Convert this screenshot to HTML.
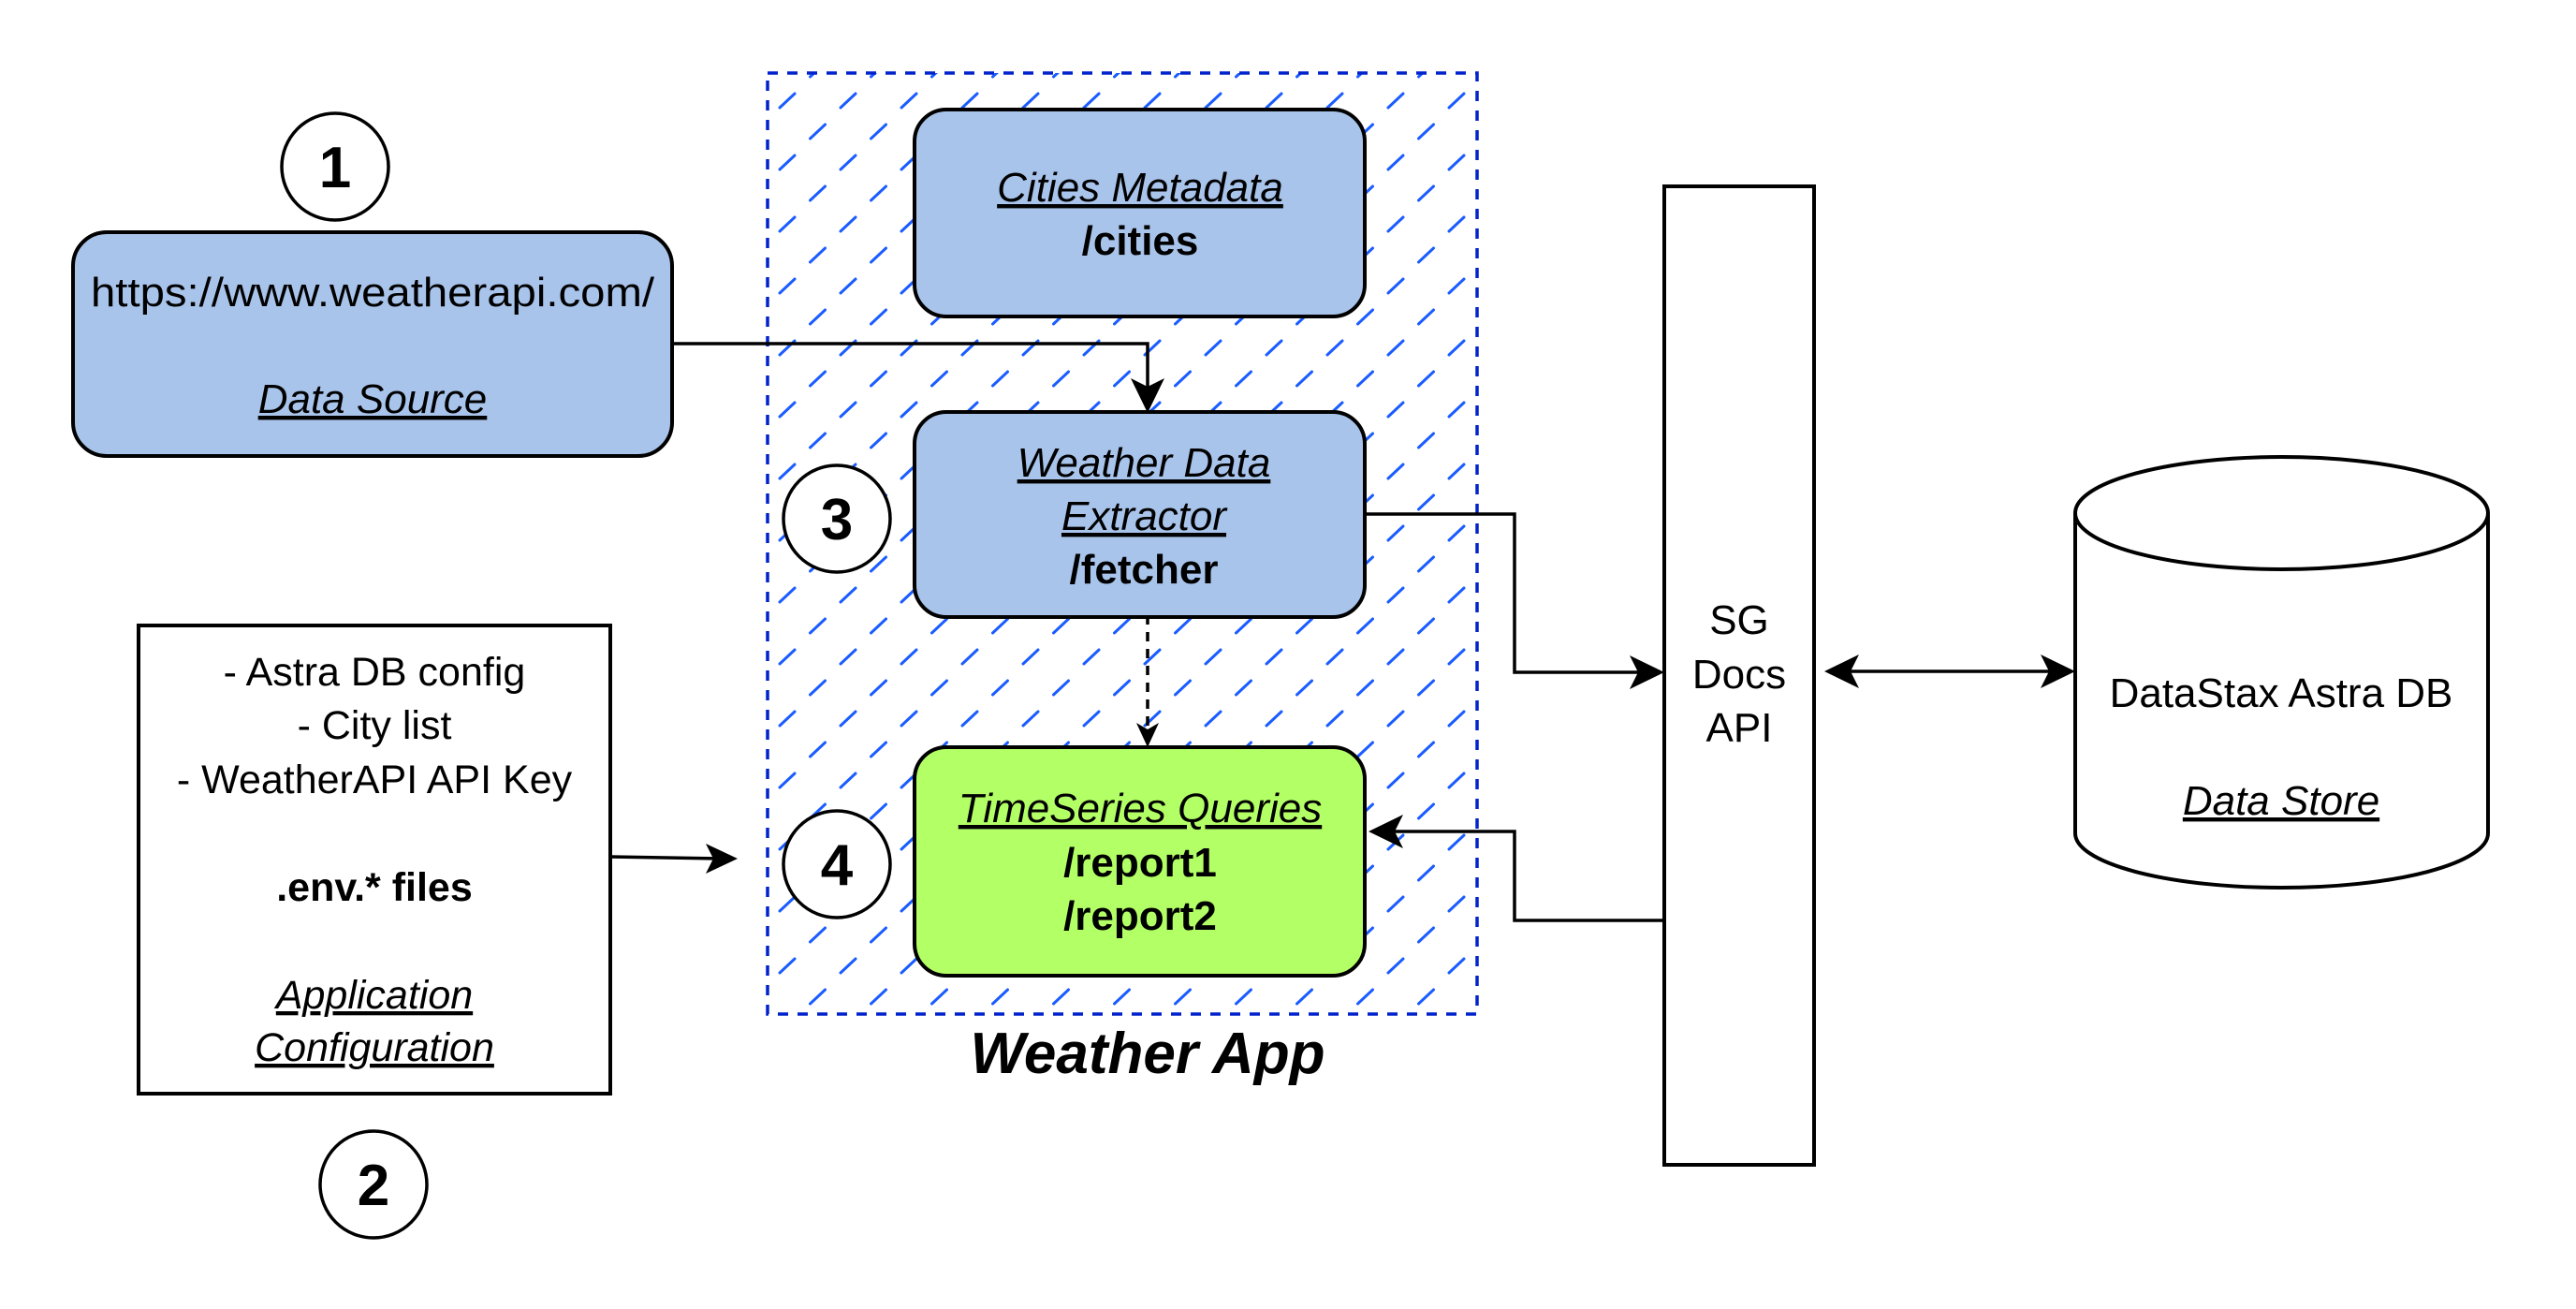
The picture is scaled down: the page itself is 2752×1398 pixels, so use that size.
<!DOCTYPE html>
<html><head><meta charset="utf-8"><style>
html,body{margin:0;padding:0;background:#fff;}
svg{display:block;}
text{font-family:"Liberation Sans",Arial,sans-serif;fill:#000;}
</style></head><body>
<svg width="2752" height="1398" viewBox="0 0 2752 1398" xmlns="http://www.w3.org/2000/svg">
<defs>
<pattern id="hatch" patternUnits="userSpaceOnUse" x="820" y="68" width="65" height="66">
<line x1="13" y1="47" x2="29" y2="32" stroke="#1a5cff" stroke-width="3" stroke-linecap="round"/>
<line x1="45.5" y1="80" x2="61.5" y2="65" stroke="#1a5cff" stroke-width="3" stroke-linecap="round"/>
<line x1="45.5" y1="14" x2="61.5" y2="-1" stroke="#1a5cff" stroke-width="3" stroke-linecap="round"/>
</pattern>
</defs>

<rect x="820" y="78" width="758" height="1005" fill="url(#hatch)" stroke="#0022cc" stroke-width="3.5" stroke-dasharray="11 10"/>
<text x="1226" y="1146" font-size="62" font-weight="bold" font-style="italic" text-anchor="middle">Weather App</text>

<g fill="none" stroke="#000" stroke-width="3.5">
<polyline points="718,367 1226,367 1226,430"/>
<line x1="1226" y1="657" x2="1226" y2="788" stroke-dasharray="10 8"/>
<polyline points="1458,549 1618,549 1618,718 1765,718"/>
<polyline points="1778,983 1618,983 1618,888 1478,888"/>
<line x1="1968" y1="717" x2="2195" y2="717"/>
<line x1="652" y1="915" x2="770" y2="917"/>
</g>
<g fill="#000">
<polygon points="1226,441 1208,404 1226,413 1244,404"/>
<polygon points="1226,798 1214,772 1226,779 1238,772"/>
<polygon points="1778,718 1741,700 1750,718 1741,736"/>
<polygon points="1462,888 1499,870 1490,888 1499,906"/>
<polygon points="1949,717 1986,699 1977,717 1986,735"/>
<polygon points="2217,717 2180,699 2189,717 2180,735"/>
<polygon points="788,917 754,901 762,917 754,933"/>
</g>

<circle cx="358" cy="178" r="57" fill="#fff" stroke="#000" stroke-width="3.5"/>
<text x="358" y="200" font-size="62" font-weight="bold" text-anchor="middle">1</text>

<rect x="78" y="248" width="640" height="239" rx="36" fill="#a9c4eb" stroke="#000" stroke-width="4"/>
<text x="398" y="327" font-size="44" text-anchor="middle" textLength="602" lengthAdjust="spacingAndGlyphs">https://www.weatherapi.com/</text>
<text x="398" y="441" font-size="44" font-style="italic" text-anchor="middle" text-decoration="underline">Data Source</text>

<rect x="977" y="117" width="481" height="221" rx="34" fill="#a9c4eb" stroke="#000" stroke-width="4"/>
<text x="1218" y="215" font-size="44" font-style="italic" text-anchor="middle" text-decoration="underline">Cities Metadata</text>
<text x="1218" y="272" font-size="44" font-weight="bold" text-anchor="middle">/cities</text>

<rect x="977" y="440" width="481" height="219" rx="34" fill="#a9c4eb" stroke="#000" stroke-width="4"/>
<text x="1222" y="509" font-size="44" font-style="italic" text-anchor="middle" text-decoration="underline">Weather Data</text>
<text x="1222" y="566" font-size="44" font-style="italic" text-anchor="middle" text-decoration="underline">Extractor</text>
<text x="1222" y="623" font-size="44" font-weight="bold" text-anchor="middle">/fetcher</text>

<circle cx="894" cy="554" r="57" fill="#fff" stroke="#000" stroke-width="3.5"/>
<text x="894" y="576" font-size="62" font-weight="bold" text-anchor="middle">3</text>

<rect x="977" y="798" width="481" height="244" rx="34" fill="#b3ff66" stroke="#000" stroke-width="4"/>
<text x="1218" y="878" font-size="44" font-style="italic" text-anchor="middle" text-decoration="underline">TimeSeries Queries</text>
<text x="1218" y="936" font-size="44" font-weight="bold" text-anchor="middle">/report1</text>
<text x="1218" y="993" font-size="44" font-weight="bold" text-anchor="middle">/report2</text>

<circle cx="894" cy="923" r="57" fill="#fff" stroke="#000" stroke-width="3.5"/>
<text x="894" y="945" font-size="62" font-weight="bold" text-anchor="middle">4</text>

<rect x="148" y="668" width="504" height="500" fill="#fff" stroke="#000" stroke-width="4"/>
<text x="400" y="732" font-size="43" text-anchor="middle">- Astra DB config</text>
<text x="400" y="789" font-size="43" text-anchor="middle">- City list</text>
<text x="400" y="847" font-size="43" text-anchor="middle">- WeatherAPI API Key</text>
<text x="400" y="962" font-size="43" font-weight="bold" text-anchor="middle">.env.* files</text>
<text x="400" y="1077" font-size="43" font-style="italic" text-anchor="middle" text-decoration="underline">Application</text>
<text x="400" y="1133" font-size="43" font-style="italic" text-anchor="middle" text-decoration="underline">Configuration</text>

<circle cx="399" cy="1265" r="57" fill="#fff" stroke="#000" stroke-width="3.5"/>
<text x="399" y="1287" font-size="62" font-weight="bold" text-anchor="middle">2</text>

<rect x="1778" y="199" width="160" height="1045" fill="#fff" stroke="#000" stroke-width="4"/>
<text x="1858" y="677" font-size="44" text-anchor="middle">SG</text>
<text x="1858" y="735" font-size="44" text-anchor="middle">Docs</text>
<text x="1858" y="792" font-size="44" text-anchor="middle">API</text>

<path d="M2217,548 L2217,890 A220.5,58 0 0 0 2658,890 L2658,548" fill="#fff" stroke="#000" stroke-width="4"/>
<ellipse cx="2437.5" cy="548" rx="220.5" ry="60" fill="#fff" stroke="#000" stroke-width="4"/>
<text x="2437" y="755" font-size="44" text-anchor="middle">DataStax Astra DB</text>
<text x="2437" y="870" font-size="44" font-style="italic" text-anchor="middle" text-decoration="underline">Data Store</text>
</svg>
</body></html>
